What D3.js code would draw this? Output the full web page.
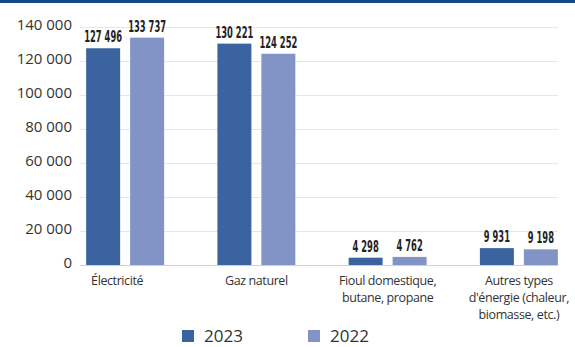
<!DOCTYPE html>
<html><head><meta charset="utf-8">
<script src="https://cdn.jsdelivr.net/npm/d3@7"></script>
<style>
body{margin:0;background:#fff;}
svg{display:block;}
</style></head>
<body>
<svg id="chart" width="575" height="347"></svg>
<script>
const categories = [["Électricité"], ["Gaz naturel"], ["Fioul domestique,", "butane, propane"], ["Autres types", "d'énergie (chaleur,", "biomasse, etc.)"]];
const categoryKeys = ["Électricité", "Gaz naturel", "Fioul", "Autres"];
const seriesNames = ["2023", "2022"];
const values2023 = [127496, 130221, 4298, 9931];
const values2022 = [133737, 124252, 4762, 9198];
const valueLabels2023 = ["127 496", "130 221", "4 298", "9 931"];
const valueLabels2022 = ["133 737", "124 252", "4 762", "9 198"];
const yTicks = [0, 20000, 40000, 60000, 80000, 100000, 120000, 140000];
const colors = {"2023": "#3a63a0", "2022": "#8294c6"};

const svg = d3.select("#chart");
svg.append("rect").attr("x",0).attr("y",0).attr("width",575).attr("height",3).attr("fill","#0f4c81");

const y = d3.scaleLinear().domain([0,140000]).range([265,27]);
const x0 = d3.scaleBand().domain(categoryKeys).range([59.5,584.5]).paddingInner(0.406).paddingOuter(0.203);
const x1 = d3.scaleBand().domain(seriesNames).range([0,x0.bandwidth()]).paddingInner(0.227);

const fmt = v => d3.format(",")(v).replace(/,/g," ");
svg.append("g").selectAll("line").data(yTicks).join("line")
  .attr("x1",80).attr("x2",558)
  .attr("y1",d=>Math.round(y(d))+0.5).attr("y2",d=>Math.round(y(d))+0.5)
  .attr("stroke",d=>d===0?"#d0d0d0":"#e6e6e6").attr("stroke-width",1);
svg.append("g").selectAll("text").data(yTicks).join("text")
  .attr("x",72).attr("y",d=>y(d)-2).attr("dy","0.35em")
  .attr("text-anchor","end")
  .attr("font-family","'Open Sans', sans-serif").attr("font-size",15).attr("fill","#333")
  .text(d=>fmt(d));

const rows = categoryKeys.map((k,i)=>({key:k, vals:[
  {s:"2023", v:values2023[i], lab:valueLabels2023[i]},
  {s:"2022", v:values2022[i], lab:valueLabels2022[i]}]}));

const groups = svg.append("g").selectAll("g").data(rows).join("g")
  .attr("transform",d=>`translate(${x0(d.key)},0)`);
groups.selectAll("rect").data(d=>d.vals).join("rect")
  .attr("x",d=>x1(d.s)).attr("width",x1.bandwidth())
  .attr("y",d=>y(d.v)).attr("height",d=>y(0)-y(d.v))
  .attr("fill",d=>colors[d.s]);
groups.selectAll("g.lab").data(d=>d.vals).join("g").attr("class","lab")
  .attr("transform",d=>`translate(${x1(d.s)+x1.bandwidth()/2},${y(d.v)-6})`)
  .append("text")
  .attr("transform","scale(0.62,1)")
  .attr("text-anchor","middle")
  .attr("font-family","'Liberation Sans Narrow','DejaVu Sans Condensed',sans-serif")
  .attr("font-weight","bold").attr("font-size",15).attr("fill","#222")
  .text(d=>d.lab);

const cl = svg.append("g").selectAll("text").data(categoryKeys).join("text")
  .attr("x",(d)=>x0(d)+x0.bandwidth()/2).attr("y",285)
  .attr("text-anchor","middle")
  .attr("font-family","'Open Sans', sans-serif").attr("font-size",12.5).attr("fill","#333")
  .attr("letter-spacing","-0.4");
cl.each(function(d,i){
  d3.select(this).selectAll("tspan").data(categories[i]).join("tspan")
    .attr("x",x0(d)+x0.bandwidth()/2 + (i===0?-8:0)).attr("dy",(t,j)=>j===0?0:17).text(t=>t);
});

const legendX = [182, 308];
const lg = svg.append("g").selectAll("g").data(seriesNames).join("g")
  .attr("transform",(d,i)=>`translate(${legendX[i]},0)`);
lg.append("rect").attr("x",0).attr("y",330).attr("width",12).attr("height",12).attr("fill",d=>colors[d]);
lg.append("text").attr("x",22).attr("y",342)
  .attr("font-family","'Open Sans', sans-serif").attr("font-size",17).attr("fill","#333")
  .text(d=>d);
</script>
</body></html>
